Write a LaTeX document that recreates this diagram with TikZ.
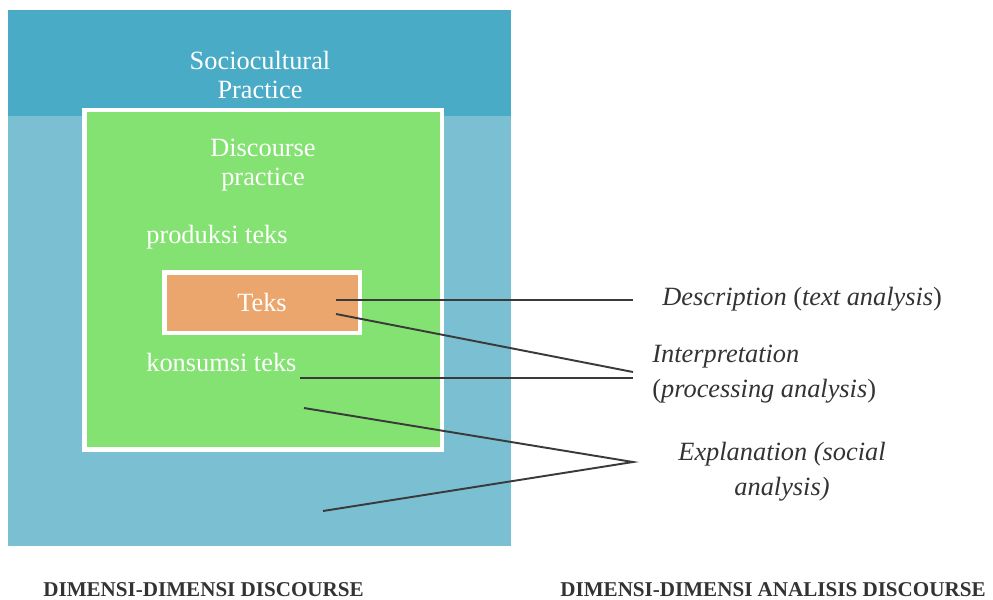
\documentclass[tikz,border=0pt]{standalone}
\usepackage{fontspec}
\setmainfont{Liberation Serif}
\usetikzlibrary{positioning}
\definecolor{SocioDark}{HTML}{4AABC6}
\definecolor{SocioLight}{HTML}{7BC0D2}
\definecolor{DiscGreen}{HTML}{84E272}
\definecolor{TeksOrange}{HTML}{EBA66E}
\definecolor{LineGray}{HTML}{3A3A3A}
\definecolor{LabelGray}{HTML}{333333}
\tikzset{
  boxtext/.style={
    text=white,
    align=center,
    inner sep=0pt,
    font=\fontsize{15}{16}\selectfont},
  frame/.style={
    draw=white,
    line width=2.8pt},
  analysis/.style={
    text=LabelGray,
    inner sep=0pt,
    font=\fontsize{15}{19.8}\selectfont\itshape},
  caption/.style={
    text=LabelGray,
    inner sep=0pt,
    anchor=base west,
    font=\fontsize{12}{14}\selectfont\bfseries},
  connector/.style={draw=LineGray, line width=1.1pt},
}
\begin{document}
\begin{tikzpicture}[x=0.02cm, y=-0.02cm]
  \useasboundingbox (0,0) rectangle (993,599);
  % sociocultural practice
  \fill[SocioLight] (8,10) rectangle (511,546);
  \fill[SocioDark] (8,10) rectangle (511,116);
  \node[boxtext, anchor=base] (Socio) at (260,98) {Sociocultural\\Practice};
  % discourse practice
  \filldraw[frame, fill=DiscGreen] (84.5,110) rectangle (442,449.5);
  \node[boxtext, anchor=base] (Discourse) at (263,185) {Discourse\\practice};
  \node[boxtext, anchor=base west] (Produksi) at (146,243) {produksi teks};
  \node[boxtext, anchor=base west] (Konsumsi) at (146,371) {konsumsi teks};
  % teks
  \filldraw[frame, fill=TeksOrange] (164.5,272.5) rectangle (360,333);
  \node[boxtext, anchor=base] (Teks) at (262,311) {Teks};

  % right hand labels
  \node[analysis, anchor=base west] (Description) at (662,305) {Description {\upshape(}text analysis{\upshape)}};
  \node[analysis, anchor=base west, align=left] (Interpretation) at (652,397) {Interpretation\\{\upshape(}processing analysis{\upshape)}};
  \node[analysis, anchor=base, align=center] (Explanation) at (782,495) {Explanation (social\\analysis)};

  \coordinate (TeksA) at (336,300);
  \coordinate (TeksB) at (336,314);
  \coordinate (KonsumsiA) at (300,378);
  \coordinate (DiscourseA) at (304,408);
  \coordinate (SocioA) at (323,511);
  \coordinate (DescEnd) at (633,300);
  \coordinate (InterpEnd) at (633,372);
  \coordinate (InterpEndB) at (633,378);
  \coordinate (ExplEnd) at (633,462);
  \draw[connector] (TeksA) -- (DescEnd);
  \draw[connector] (TeksB) -- (InterpEnd);
  \draw[connector] (KonsumsiA) -- (InterpEndB);
  \draw[connector] (DiscourseA) -- (ExplEnd) -- (SocioA);

  % captions
  \node[caption] (DimLeft) at (43,596) {DIMENSI-DIMENSI DISCOURSE};
  \node[caption] (DimRight) at (560,596) {DIMENSI-DIMENSI ANALISIS DISCOURSE};
\end{tikzpicture}
\end{document}
